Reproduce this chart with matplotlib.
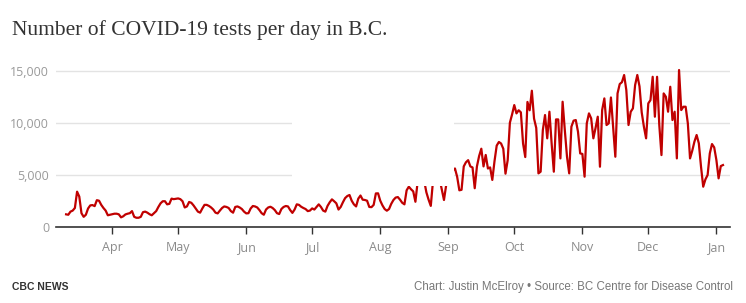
import pandas as pd
import matplotlib
matplotlib.use("Agg")
import matplotlib.pyplot as plt
import matplotlib.ticker as mticker
from matplotlib.patches import Rectangle

# daily tests (Mar 11 2020 -> Jan 4 2021)
mar = [1190, 1150, 1450, 1550, 1800, 3370, 2900, 1300, 950, 1150, 1750, 2050, 2080, 1980,
       2550, 2500, 2100, 1800, 1550, 1100, 1150]
apr = [1190, 1250, 1250, 1190, 900, 1000, 1180, 1250, 1300, 1500, 950, 860, 860, 950, 1400,
       1450, 1350, 1200, 1100, 1300, 1500, 1900, 2250, 2450, 2450, 2150, 2200, 2700, 2650, 2680]
may = [2720, 2650, 2450, 1850, 1950, 2380, 2300, 2050, 1750, 1450, 1350, 1750, 2100, 2100,
       2000, 1850, 1650, 1350, 1280, 1550, 1800, 1950, 1900, 1800, 1500, 1350, 1900, 1950,
       1850, 1700, 1450]
jun = [1280, 1300, 1750, 1990, 1950, 1850, 1600, 1300, 1150, 1650, 1850, 1920, 1800, 1600,
       1300, 1220, 1700, 1900, 1990, 1950, 1600, 1330, 1650, 2150, 2100, 1920, 1800, 1700,
       1500, 1550]
jul = [1760, 1650, 1900, 2150, 1900, 1550, 1450, 2000, 2350, 2630, 2450, 2250, 1650, 1900,
       2350, 2750, 2950, 3050, 2500, 2150, 1950, 2700, 3000, 2600, 2570, 2500, 1900, 1880,
       2100, 3200, 3210]
aug = [2500, 2050, 1700, 1540, 1700, 2200, 2570, 2800, 2850, 2600, 2300, 2150, 3500, 3850,
       3600, 3400, 2400, 4300, 4500, 4600, 4400, 3300, 2600, 2000, 4400, 4900, 5000, 4600,
       3600, 2570, 4000]
sep = [4500, 5000, 5400, 5600, 4800, 3500, 3550, 5800, 6200, 6400, 5800, 5700, 3700, 5800,
       6800, 7500, 5800, 6900, 5600, 5700, 4500, 6300, 7800, 8150, 8000, 7500, 5100, 6400,
       10000, 10800]
oct_ = [11700, 10900, 11200, 11000, 8000, 6700, 12000, 11200, 13080, 10400, 9500, 5130, 5290,
        9300, 10740, 8500, 11060, 8020, 5290, 10320, 10320, 6570, 12020, 9300, 6730, 5130,
        9620, 10200, 10260, 9140, 7050]
nov = [7000, 4810, 9940, 10900, 10420, 8500, 9500, 10580, 5770, 11220, 12340, 9780, 9940,
       12430, 9620, 6730, 12820, 13720, 13900, 14590, 13140, 9780, 11060, 11380, 13620, 14590,
       13500, 11000, 9620, 8500]
dec = [11860, 12180, 14420, 10580, 14420, 9800, 6890, 12820, 12500, 11060, 13460, 10260,
       11060, 6570, 15070, 11220, 11540, 11540, 9940, 6570, 7300, 8180, 8820, 8020, 5770,
       3850, 4550, 4970, 7050, 7950, 7630]
jan = [6410, 4650, 5830, 5930]

tests = mar + apr + may + jun + jul + aug + sep + oct_ + nov + dec + jan
dates = pd.date_range("2020-03-11", periods=len(tests), freq="D")

month_ticks = pd.to_datetime(["2020-04-01", "2020-05-01", "2020-06-01", "2020-07-01",
                              "2020-08-01", "2020-09-01", "2020-10-01", "2020-11-01",
                              "2020-12-01", "2021-01-01"])
month_labels = ["Apr", "May", "Jun", "Jul", "Aug", "Sep", "Oct", "Nov", "Dec", "Jan"]
y_ticks = [0, 5000, 10000, 15000]

fig = plt.figure(figsize=(7.46, 3.03), dpi=100)
ax = fig.add_axes([0.0751, 0.2518, 0.9035, 0.549])

ax.plot(dates, tests, color="#c00000", lw=1.6, solid_joinstyle="round", zorder=3)

ax.set_xlim(pd.Timestamp("2020-03-06 10:00"), pd.Timestamp("2021-01-07 05:00"))
ax.set_ylim(0, 16000)

ax.set_yticks(y_ticks)
ax.yaxis.set_major_formatter(mticker.FuncFormatter(lambda v, p: f"{int(v):,}"))
ax.set_xticks(month_ticks)
ax.set_xticklabels(month_labels)

for s in ["top", "right", "left"]:
    ax.spines[s].set_visible(False)
ax.spines["bottom"].set_color("#333333")
ax.spines["bottom"].set_linewidth(1.2)

ax.grid(axis="y", color="#e3e3e3", lw=1, zorder=0)
ax.tick_params(axis="y", length=0, pad=5, labelsize=9, labelcolor="#9a9a9a")
ax.tick_params(axis="x", length=5, width=1, color="#333333", pad=5, labelsize=9,
               labelcolor="#8a8a8a")
for lab in ax.get_xticklabels() + ax.get_yticklabels():
    lab.set_family("Open Sans")

# white overlay block that hides part of the line in the original
ax.add_patch(Rectangle((292 / 746, (303 - 186) / 303), 162 / 746, 92 / 303,
                       transform=fig.transFigure, facecolor="white", edgecolor="none",
                       zorder=10, clip_on=False))

fig.text(12 / 746, 1 - 30 / 303, "Number of COVID-19 tests per day in B.C.",
         family="Liberation Serif", fontsize=15.5, color="#333333", va="center", ha="left")
fig.text(12 / 746, 1 - 287 / 303, "CBC NEWS", family="Liberation Sans",
         fontsize=7.5, fontweight="bold", color="#333333", va="center", ha="left")
fig.text(733 / 746, 1 - 287 / 303,
         "Chart: Justin McElroy \u2022 Source: BC Centre for Disease Control",
         family="Liberation Sans", fontsize=8.3, color="#777777", va="center", ha="right")

fig.savefig("out.png", dpi=100)
